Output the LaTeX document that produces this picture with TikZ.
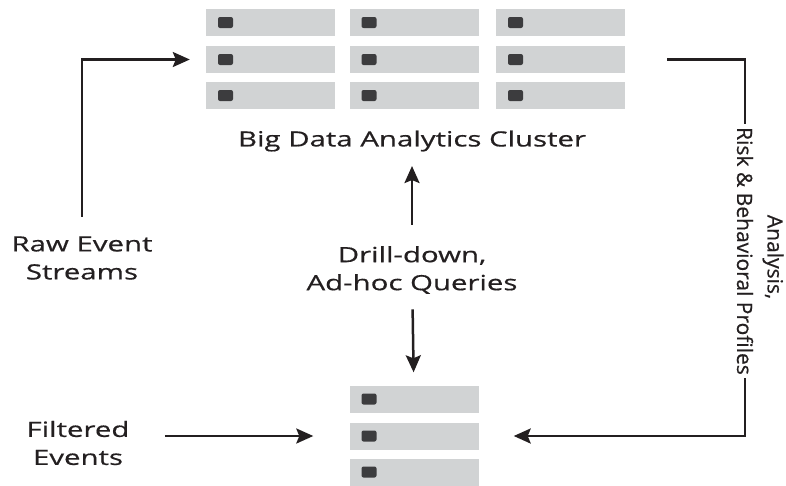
\documentclass[tikz,border=0pt]{standalone}
\usepackage{fontspec}
\setmainfont{Open Sans}[FakeBold=0.6]
\newfontfamily\widefont{Open Sans}[FakeStretch=1.4, FakeBold=0.6]
\usetikzlibrary{arrows.meta}
\definecolor{bargray}{HTML}{D1D3D4}
\definecolor{ledgray}{HTML}{3C3C3E}
\definecolor{ink}{HTML}{231F20}
\newcommand{\lbl}{\fontsize{21}{28}\selectfont}

\begin{document}
\begin{tikzpicture}[x=1pt, y=-1pt,
  bar/.style={fill=bargray, minimum width=129pt, minimum height=27pt, inner sep=0pt,
    path picture={\fill[ledgray, rounded corners=2pt]
      ([xshift=12pt, yshift=5.5pt]path picture bounding box.west) rectangle ++(15pt,-11pt);}},
  txt/.style={text=ink, align=center, font=\widefont\lbl},
  vtxt/.style={text=ink, align=center, font=\lbl, rotate=-90},
  wire/.style={draw=ink, line width=2.5pt},
  flow/.style={wire, -{Stealth[length=17pt, width=15pt, inset=3pt]}}]
 \useasboundingbox (0,0) rectangle (786,485);

 % analytics cluster
 \node[bar] (c11) at (270.5, 22.5) {};
 \node[bar] (c12) at (414,   22.5) {};
 \node[bar] (c13) at (560.5, 22.5) {};
 \node[bar] (c21) at (270.5, 59.5) {};
 \node[bar] (c22) at (414,   59.5) {};
 \node[bar] (c23) at (560.5, 59.5) {};
 \node[bar] (c31) at (270.5, 95.5) {};
 \node[bar] (c32) at (414,   95.5) {};
 \node[bar] (c33) at (560.5, 95.5) {};
 \node[txt] (cl) at (412, 141) {Big Data Analytics Cluster};

 % filtered store
 \node[bar] (f1) at (414, 399) {};
 \node[bar] (f2) at (414, 436) {};
 \node[bar] (f3) at (414, 472) {};

 \node[txt] (raw)  at (82, 258)  {Raw Event\\Streams};
 \node[txt] (q)    at (412, 270) {Drill-down,\\Ad-hoc Queries};
 \node[txt] (filt) at (78, 443)  {Filtered\\Events};
 \node[vtxt] (risk) at (745, 251) {Risk \& Behavioral Profiles};
 \node[vtxt] (ana)  at (773, 257) {Analysis,};

 \coordinate (rt) at (c23 -| risk);
 \coordinate (rb) at (f2 -| risk);

 \path[flow, shorten <=16pt, shorten >=16pt] (raw) |- (c21);
 \path[flow, shorten <=18pt, shorten >=11pt] (q) -- (cl);
 \path[flow, shorten <=12pt, shorten >=13pt] (q) -- (f1);
 \path[flow, shorten <=32pt, shorten >=36pt] (filt.east |- f2) -- (f2);
 \path[wire, shorten <=42pt] (c23) -- (rt) -- (risk.west);
 \path[flow, shorten >=35pt] (risk.east) -- (rb) -- (f2);
\end{tikzpicture}
\end{document}
